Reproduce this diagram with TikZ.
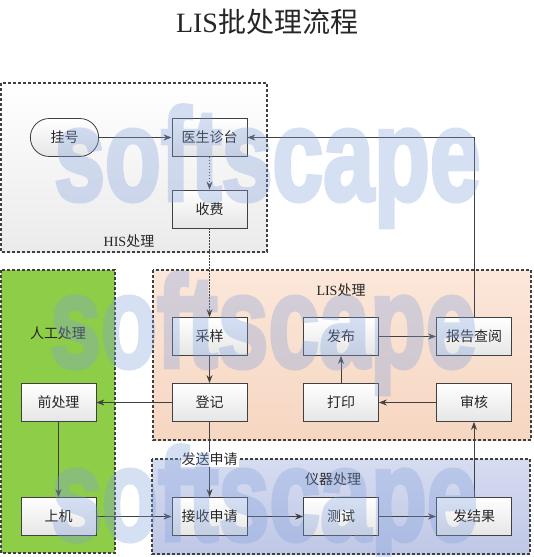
\documentclass[tikz,border=0pt]{standalone}
\usepackage{graphicx}
\usepackage{fontspec}
\setmainfont{Noto Sans CJK SC}
\newfontfamily\latfont{Liberation Serif}
\newfontfamily\wmfont{Liberation Sans Bold}[FakeBold=3.5]
\usepackage{tikz}
\usetikzlibrary{arrows.meta,shapes.misc}

\definecolor{linegray}{HTML}{404040}
\definecolor{textgray}{HTML}{262626}
\definecolor{handgreen}{HTML}{8DCD47}
\definecolor{peachtop}{RGB}{251,231,218}
\definecolor{peachbot}{RGB}{246,214,193}
\definecolor{devtop}{RGB}{214,220,240}
\definecolor{devbot}{RGB}{190,199,230}
\definecolor{wmblue}{RGB}{130,160,220}

\tikzset{
  region/.style={draw=linegray,line width=1.4pt,dash pattern=on 3pt off 2pt},
  regionlabel/.style={text=textgray,font=\fontsize{14}{14}\selectfont},
  stepbox/.style={draw=linegray,line width=0.8pt,minimum width=75pt,minimum height=38pt,
    top color=white,bottom color=black!10,text=textgray,font=\fontsize{14}{14}\selectfont},
  startbox/.style={stepbox,rounded rectangle},
  watermark/.style={anchor=base west,inner sep=0pt,text=wmblue,
    font=\wmfont\fontsize{145}{145}\selectfont}
}

\begin{document}
\begin{tikzpicture}[x=1pt,y=-1pt]
  \useasboundingbox (0,0) rectangle (534,557);
  \node (title) at (267,22) {\fontsize{28}{28}\selectfont\color{textgray}{\latfont LIS}批处理流程};

  % areas
  \draw[region,top color=white,bottom color=black!8] (1,83) rectangle (267,252);
  \draw[region,fill=handgreen] (1,270) rectangle (115,553);
  \draw[region,top color=peachtop,bottom color=peachbot] (153,270) rectangle (531,440);
  \draw[region,top color=devtop,bottom color=devbot] (152,459) rectangle (530,554);
  \begin{scope}[every node/.style={regionlabel}]
    \node (his) at (129,241) {{\latfont HIS}处理};
    \node (hand) at (58,333) {人工处理};
    \node (lis) at (341,290) {{\latfont LIS}处理};
    \node (dev) at (333,479) {仪器处理};
  \end{scope}

  % steps
  \begin{scope}[every node/.style={stepbox}]
    \node[startbox] (guahao) at (64.5,137.5) {挂号};
    \node (yisheng) at (209.5,137.5) {医生诊台};
    \node (shoufei) at (209.5,209) {收费};
    \node (caiyang) at (209.5,336.5) {采样};
    \node (dengji) at (209.5,402.5) {登记};
    \node (fabu) at (341,336.5) {发布};
    \node (baogao) at (474,336.5) {报告查阅};
    \node (dayin) at (341,402.5) {打印};
    \node (shenhe) at (474,402.5) {审核};
    \node (qianchuli) at (58.5,402.5) {前处理};
    \node (shangji) at (58.5,516.5) {上机};
    \node (jieshou) at (209.5,516.5) {接收申请};
    \node (ceshi) at (341,516.5) {测试};
    \node (fajieguo) at (474,516.5) {发结果};
  \end{scope}

  % flow
  \begin{scope}[>={Stealth[length=8pt,width=6pt]},every edge/.style={draw=linegray,line width=0.8pt}]
    \path[->] (guahao) edge (yisheng);
    \path[->] (yisheng) edge[dash pattern=on 1.5pt off 1.5pt] (shoufei);
    \path[->] (shoufei) edge[dash pattern=on 1.5pt off 1.5pt] (caiyang);
    \path[->] (caiyang) edge (dengji);
    \path[->] (dengji) edge (qianchuli);
    \path[->] (qianchuli) edge (shangji);
    \path[->] (shangji) edge (jieshou);
    \path[->] (dengji) edge node[fill=white,inner sep=1pt,text=textgray,font=\fontsize{14}{14}\selectfont] {发送申请} (jieshou);
    \path[->] (jieshou) edge (ceshi);
    \path[->] (ceshi) edge (fajieguo);
    \path[->] (fajieguo) edge (shenhe);
    \path[->] (shenhe) edge (dayin);
    \path[->] (dayin) edge (fabu);
    \path[->] (fabu) edge (baogao);
    \path[->] (baogao) edge[to path={|- (\tikztotarget)}] (yisheng);
  \end{scope}

  % watermark
  \begin{scope}[transparency group,opacity=0.33,every node/.style={watermark}]
    \node (wm1) at (54,200) {\scalebox{0.63}[0.9]{softscape}};
    \node (wm2) at (50,367) {\scalebox{0.63}[0.9]{softscape}};
    \node (wm3) at (51,540) {\scalebox{0.63}[0.9]{softscape}};
  \end{scope}
\end{tikzpicture}
\end{document}
